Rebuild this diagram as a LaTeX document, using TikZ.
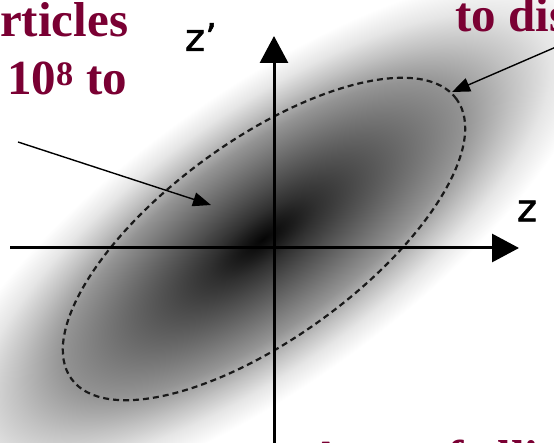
\documentclass[tikz,border=0pt]{standalone}
\usepackage{fontspec}
\setmainfont{Liberation Serif}
\newfontfamily\axisfont[FakeBold=1.2]{DejaVu Sans}
\usetikzlibrary{arrows.meta,shapes.geometric}
\definecolor{maroon}{RGB}{122,0,51}
\pgfdeclareradialshading{blob}{\pgfpoint{0bp}{0bp}}{%
color(0bp)=(black!98);
color(2bp)=(black!90);
color(4bp)=(black!81);
color(7bp)=(black!70);
color(11bp)=(black!56);
color(15bp)=(black!42);
color(18.5bp)=(black!24);
color(21.5bp)=(black!10);
color(25bp)=(white);
color(50bp)=(white)}
\begin{document}
\begin{tikzpicture}[x=1pt,y=1pt,
  lbl/.style={text=maroon, font=\fontsize{49}{58}\selectfont\bfseries, inner sep=0pt},
  axislbl/.style={font=\axisfont\fontsize{38}{40}\selectfont, inner sep=0pt},
  axis/.style={line width=3pt, -{Triangle[length=27pt,width=28pt]}},
  pointer/.style={line width=1.4pt, -{Triangle[length=18pt,width=14pt]}},
  contour/.style={draw=black!90, line width=2.2pt, dash pattern=on 6pt off 4pt, ellipse, inner sep=0pt}]
\useasboundingbox (0,0) rectangle (554,442);
\clip (0,0) rectangle (554,442);
\fill[white] (0,0) rectangle (554,442);
% gaussian beam blob
\begin{scope}[transform canvas={shift={(263pt,203pt)},rotate=36}]
  \shade[shading=blob] (0,0) ellipse [x radius=400, y radius=145];
\end{scope}
% emittance ellipse
\node[contour, rotate=36, minimum width=476pt, minimum height=198pt] (ell) at (264,203) {};
% axes
\coordinate (hl) at (10,194);
\coordinate (hr) at (519,194);
\coordinate (vb) at (274,-2);
\coordinate (vt) at (274,406);
\draw[axis] (hl) -- (hr);
\draw[axis] (vb) -- (vt);
\node[axislbl] (zl) at (527,231) {z};
\node[axislbl] (zpl) at (201,405) {z’};
% texts
\node[lbl, anchor=base west] (t1) at (0,405) {rticles};
\node[lbl, anchor=base west] (t2) at (7,347) {10\textsuperscript{8} to};
\node[lbl, anchor=base west] (t3) at (455,410) {to dis};
\node[lbl, anchor=base west] (t4) at (308,-32) {Area of elli};
% pointers
\coordinate (p1s) at (18,300);
\coordinate (p1e) at (211,237);
\coordinate (p2s) at (556,395);
\coordinate (p2e) at (452,350);
\draw[pointer] (p1s) -- (p1e);
\draw[pointer] (p2s) -- (p2e);
\end{tikzpicture}
\end{document}
